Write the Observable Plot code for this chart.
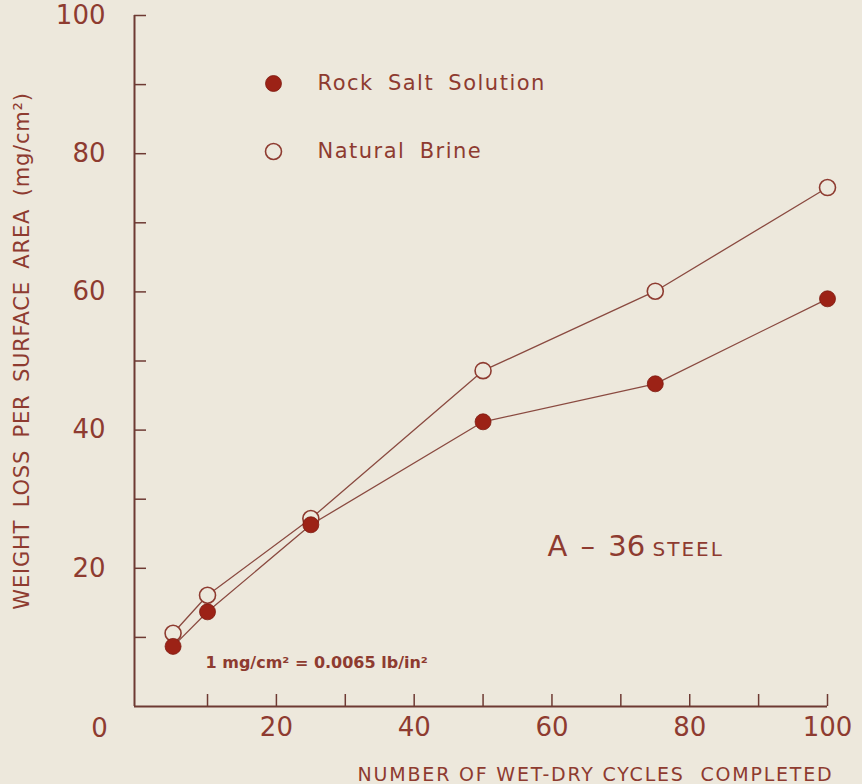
<!DOCTYPE html>
<html><head><meta charset="utf-8">
<script src="https://cdn.jsdelivr.net/npm/d3@7"></script>
<script src="https://cdn.jsdelivr.net/npm/@observablehq/plot@0.6"></script>
<style>html,body{margin:0;padding:0;background:#ede8dc;}</style>
</head><body><div id="chart"></div>
<script>
// ---- data ----
const cycles = [5, 10, 25, 50, 75, 100];
const rockSalt = [8.7, 13.7, 26.3, 41.2, 46.7, 59.0];
const naturalBrine = [10.6, 16.1, 27.2, 48.6, 60.1, 75.1];
const seriesNames = ["Rock Salt Solution", "Natural Brine"];
const xTickValues = [10, 20, 30, 40, 50, 60, 70, 80, 90, 100];
const yTickValues = [10, 20, 30, 40, 50, 60, 70, 80, 90, 100];
const xLabelValues = [20, 40, 60, 80, 100];
const yLabelValues = [20, 40, 60, 80, 100];
const originLabel = ["0"];
const xTitle = ["NUMBER OF WET-DRY CYCLES  COMPLETED"];
const yTitle = ["WEIGHT LOSS PER SURFACE AREA (mg/cm²)"];
const materialMain = ["A – 36"];
const materialSub = ["STEEL"];
const conversionNote = ["1 mg/cm² = 0.0065 lb/in²"];

// ---- table built from arrays ----
const rows = cycles.flatMap((c, i) => [
  {cycles: c, loss: rockSalt[i], series: seriesNames[0]},
  {cycles: c, loss: naturalBrine[i], series: seriesNames[1]}
]);

// ---- styling ----
const W = 862, H = 784, mL = 134, mR = 35, mT = 15, mB = 78;
const fw = W - mL - mR, fh = H - mT - mB;
const ink = "#8e3b30", axisInk = "#6e3a33", lineInk = "#8a4a40", dotFill = "#9c2216", bg = "#ede8dc";
const FONT = "DejaVu Sans";
const txt = (data, o) => Plot.text(data, {lineAnchor: "middle", fill: ink, text: d => d, ...o});

const chart = Plot.plot({
  width: W, height: H,
  marginLeft: mL, marginRight: mR, marginTop: mT, marginBottom: mB,
  style: {background: bg, fontFamily: FONT, color: ink, overflow: "visible"},
  x: {domain: [-0.6, 100], axis: null},
  y: {domain: [0, 100], axis: null},
  marks: [
    Plot.ruleX([-0.6], {stroke: axisInk, strokeWidth: 2}),
    Plot.ruleY([0], {stroke: axisInk, strokeWidth: 2}),
    Plot.tickY(yTickValues, {y: d => d, insetRight: fw - 12, stroke: axisInk, strokeWidth: 1.5}),
    Plot.tickX(xTickValues, {x: d => d, insetTop: fh - 12, stroke: axisInk, strokeWidth: 1.5}),
    Plot.axisY(yLabelValues, {tickSize: 0, tickPadding: 29, fontSize: 26, fill: ink, label: null}),
    Plot.axisX(xLabelValues, {tickSize: 0, tickPadding: 11, fontSize: 26, fill: ink, label: null}),
    txt(originLabel, {frameAnchor: "bottom-left", textAnchor: "middle", dx: -35, dy: 22, fontSize: 26}),
    txt(yTitle, {frameAnchor: "left", textAnchor: "middle", rotate: -90, dx: -112, dy: -10, fontSize: 21}),
    txt(xTitle, {frameAnchor: "bottom-right", textAnchor: "end", dx: 6, dy: 68, fontSize: 19}),
    Plot.line(rows, {x: "cycles", y: "loss", z: "series", stroke: lineInk, strokeWidth: 1.3}),
    Plot.dot(rows.filter(d => d.series === seriesNames[1]), {x: "cycles", y: "loss", r: 8, fill: bg, stroke: ink, strokeWidth: 1.6}),
    Plot.dot(rows.filter(d => d.series === seriesNames[0]), {x: "cycles", y: "loss", r: 8, fill: dotFill, stroke: "#7e1a10", strokeWidth: 0.8}),
    // legend
    Plot.dot([seriesNames[0]], {frameAnchor: "top-left", dx: 139, dy: 68, r: 8, fill: dotFill, stroke: "#7e1a10", strokeWidth: 0.8}),
    Plot.dot([seriesNames[1]], {frameAnchor: "top-left", dx: 139, dy: 136, r: 8, fill: bg, stroke: ink, strokeWidth: 1.6}),
    txt([seriesNames[0]], {frameAnchor: "top-left", dx: 183, dy: 68, textAnchor: "start", fontSize: 21}),
    txt([seriesNames[1]], {frameAnchor: "top-left", dx: 183, dy: 136, textAnchor: "start", fontSize: 21}),
    // annotations
    txt(materialMain, {frameAnchor: "top-left", dx: 413, dy: 531, textAnchor: "start", fontSize: 29}),
    txt(materialSub, {frameAnchor: "top-left", dx: 518, dy: 534, textAnchor: "start", fontSize: 20}),
    txt(conversionNote, {frameAnchor: "top-left", dx: 71, dy: 647, textAnchor: "start", fontSize: 16, fontWeight: "bold"})
  ]
});

// letter spacing adjustments (style only)
const spacing = new Map([
  [seriesNames[0], {ls: 1.5, ws: 6}],
  [seriesNames[1], {ls: 1.5, ws: 6}],
  [xTitle[0], {ls: 1.8, ws: 0}],
  [yTitle[0], {ls: 0.8, ws: 5}],
  [materialSub[0], {ls: 2, ws: 0}],
  [materialMain[0], {ls: 0, ws: 4}]
]);
d3.select(chart).selectAll("text").each(function() {
  const s = spacing.get(this.textContent);
  if (s) {
    if (s.ls) this.setAttribute("letter-spacing", s.ls);
    if (s.ws) this.setAttribute("word-spacing", s.ws);
  }
});
document.getElementById("chart").appendChild(chart);
</script>
</body></html>
